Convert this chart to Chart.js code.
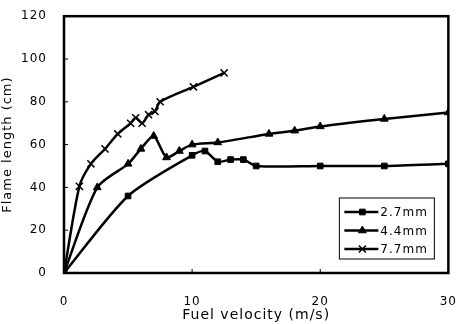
<!DOCTYPE html>
<html>
<head>
<meta charset="utf-8">
<script src="https://cdn.jsdelivr.net/npm/chart.js@4.4.1/dist/chart.umd.min.js"></script>
<style>
  html, body { margin: 0; padding: 0; background: #fff; }
  #wrap { width: 471px; height: 324px; }
</style>
</head>
<body>
<div id="wrap"><canvas id="flameChart"></canvas></div>
<script>
// Values
const labels = ['2.7mm', '4.4mm', '7.7mm'];

const vel27 = [0, 5, 10, 11, 12, 13, 14, 15, 20, 25, 30];
const len27 = [0, 36, 55, 57, 52, 53, 53, 50, 50, 50, 51];

const vel44 = [0, 2.6, 5, 6, 7, 8, 9, 10, 12, 16, 18, 20, 25, 30];
const len44 = [0, 40, 51, 58, 64, 54, 57, 60, 61, 65, 66.5, 68.5, 72, 75];

const vel77 = [0, 1.2, 2.1, 3.2, 4.2, 5.2, 5.6, 6.1, 6.6, 7.1, 7.5, 10.1, 12.5];
const len77 = [0, 40.5, 51, 58, 65, 70, 72.5, 70, 74, 75.5, 80, 87, 93.5];

const xTicks = [0, 10, 20, 30];
const yTicks = [0, 20, 40, 60, 80, 100, 120];

const FONT = 'DejaVu Sans';

function toPoints(xs, ys) {
    return xs.map((x, i) => ({ x: x, y: ys[i] }));
}

function series(label, xs, ys, style, radius) {
    return {
        label: label,
        data: toPoints(xs, ys),
        borderColor: '#000',
        backgroundColor: '#000',
        borderWidth: 2.5,
        tension: 0.25,
        pointStyle: style,
        pointRadius: radius,
        pointBorderWidth: style === 'crossRot' ? 1.5 : 1,
        pointBorderColor: '#000',
        pointBackgroundColor: '#000'
    };
}

// letter spacing like the scanned original; context is reset on resize
const spacing = {
    id: 'spacing',
    beforeLayout(chart) { chart.ctx.letterSpacing = '1px'; },
    beforeDraw(chart) { chart.ctx.letterSpacing = '1px'; }
};

// heavy frame round the plot area plus small inward ticks
const frame = {
    id: 'frame',
    afterDatasetsDraw(chart) {
        const { ctx, chartArea: a, scales } = chart;
        ctx.save();
        ctx.strokeStyle = '#000';
        ctx.lineWidth = 1;
        scales.y.ticks.forEach(t => {
            const py = scales.y.getPixelForValue(t.value);
            ctx.beginPath();
            ctx.moveTo(a.left, py);
            ctx.lineTo(a.left + 4, py);
            ctx.stroke();
        });
        scales.x.ticks.forEach(t => {
            const px = scales.x.getPixelForValue(t.value);
            ctx.beginPath();
            ctx.moveTo(px, a.bottom);
            ctx.lineTo(px, a.bottom - 4);
            ctx.stroke();
        });
        ctx.lineWidth = 2.5;
        ctx.strokeRect(a.left, a.top, a.right - a.left, a.bottom - a.top);
        ctx.restore();
    }
};

// boxed legend sitting inside the lower right of the plot
const boxLegend = {
    id: 'boxLegend',
    afterDraw(chart) {
        const { ctx, chartArea: a } = chart;
        const bx = a.right - 109, by = a.bottom - 75, bw = 95, bh = 61;
        ctx.save();
        ctx.fillStyle = '#fff';
        ctx.fillRect(bx, by, bw, bh);
        ctx.strokeStyle = '#000';
        ctx.lineWidth = 1;
        ctx.strokeRect(bx, by, bw, bh);
        ctx.font = '12px "' + FONT + '"';
        ctx.textBaseline = 'middle';
        ctx.fillStyle = '#000';
        chart.data.datasets.forEach((ds, i) => {
            const cy = by + 14 + i * 18.5;
            ctx.lineWidth = 2.5;
            ctx.beginPath();
            ctx.moveTo(bx + 5, cy);
            ctx.lineTo(bx + 39, cy);
            ctx.stroke();
            ctx.lineWidth = ds.pointBorderWidth;
            Chart.helpers.drawPoint(ctx, {
                pointStyle: ds.pointStyle,
                radius: ds.pointRadius,
                rotation: 0,
                borderWidth: ds.pointBorderWidth
            }, bx + 23, cy);
            ctx.fillText(ds.label, bx + 41, cy + 1);
        });
        ctx.restore();
    }
};

const ctx = document.getElementById('flameChart').getContext('2d');
const flameChart = new Chart(ctx, {
    type: 'line',
    data: {
        datasets: [
            series(labels[0], vel27, len27, 'rect', 4),
            series(labels[1], vel44, len44, 'triangle', 4.5),
            series(labels[2], vel77, len77, 'crossRot', 5)
        ]
    },
    options: {
        responsive: true,
        maintainAspectRatio: false,
        animation: false,
        layout: { padding: { left: 0, right: 9, top: 16, bottom: 0 } },
        plugins: {
            legend: { display: false },
            tooltip: { enabled: false }
        },
        scales: {
            x: {
                type: 'linear',
                min: 0,
                max: 30,
                afterBuildTicks: s => { s.ticks = xTicks.map(v => ({ value: v })); },
                afterFit: s => { s.height = 51; },
                grid: { display: false },
                border: { display: false },
                ticks: { color: '#000', padding: 14, font: { family: FONT, size: 12 } },
                title: {
                    display: true,
                    text: 'Fuel velocity (m/s)',
                    color: '#000',
                    padding: { top: 2, bottom: 0 },
                    font: { family: FONT, size: 14 }
                }
            },
            y: {
                min: 0,
                max: 120,
                afterBuildTicks: s => { s.ticks = yTicks.map(v => ({ value: v })); },
                afterFit: s => { s.width = 64; },
                grid: { display: false },
                border: { display: false },
                ticks: { color: '#000', padding: 9, font: { family: FONT, size: 12 } },
                title: {
                    display: true,
                    text: 'Flame length (cm)',
                    color: '#000',
                    padding: { top: 0, bottom: 2 },
                    font: { family: FONT, size: 13 }
                }
            }
        }
    },
    plugins: [spacing, frame, boxLegend]
});
</script>
</body>
</html>
